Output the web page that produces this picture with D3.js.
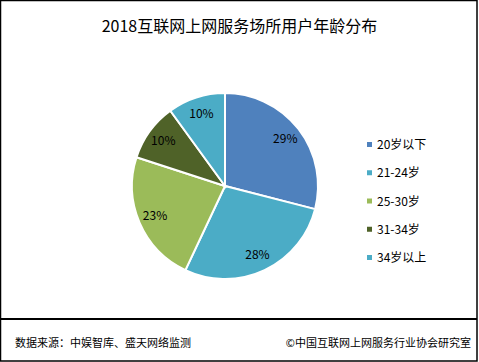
<!DOCTYPE html>
<html>
<head>
<meta charset="utf-8">
<script src="https://cdn.jsdelivr.net/npm/d3@7"></script>
<style>
  body { margin: 0; background: #fff; }
  text { font-family: "Microsoft YaHei", "Noto Sans CJK SC", sans-serif; fill: #000; }
</style>
</head>
<body>
<svg id="pieChart" width="479" height="362"></svg>
<script>
var ageGroups = ["20岁以下", "21-24岁", "25-30岁", "31-34岁", "34岁以上"];
var shares = [29, 28, 23, 10, 10];
var sliceColors = ["#4F81BD", "#4BACC6", "#9BBB59", "#4F6228", "#4BACC6"];

var svg = d3.select("#pieChart"),
    width = +svg.attr("width"),
    height = +svg.attr("height"),
    radius = 93;

var data = ageGroups.map(function (a, i) { return { age: a, share: shares[i] }; });

// frame + footer divider
svg.append("rect").attr("x", 0.5).attr("y", 0.5)
    .attr("width", width - 2.5).attr("height", height - 1.5)
    .attr("fill", "none").attr("stroke", "#000").attr("stroke-width", 1.5);
svg.append("line").attr("x1", 0).attr("x2", width - 2)
    .attr("y1", 319).attr("y2", 319)
    .attr("stroke", "#000").attr("stroke-width", 2);

svg.append("text")
    .attr("x", width / 2).attr("y", 32)
    .attr("text-anchor", "middle")
    .style("font-size", "16px")
    .text("2018互联网上网服务场所用户年龄分布");

var color = d3.scaleOrdinal().domain(ageGroups).range(sliceColors);

var pie = d3.pie().sort(null).value(function (d) { return d.share; });
var path = d3.arc().outerRadius(radius).innerRadius(0);
var label = d3.arc().outerRadius(radius * 0.82).innerRadius(radius * 0.82);

var g = svg.append("g").attr("transform", "translate(225,186)");

var arc = g.selectAll(".arc")
    .data(pie(data))
    .enter().append("g")
    .attr("class", "arc");

arc.append("path")
    .attr("d", path)
    .attr("fill", function (d) { return color(d.data.age); })
    .attr("stroke", "#fff")
    .attr("stroke-width", 2);

arc.append("text")
    .attr("transform", function (d) { return "translate(" + label.centroid(d) + ")"; })
    .attr("text-anchor", "middle")
    .attr("dy", "0.35em")
    .style("font-size", "12px")
    .text(function (d) { return d.data.share + "%"; });

// legend
var y = d3.scalePoint().domain(ageGroups).range([145, 258]);
var legend = svg.append("g").selectAll("g")
    .data(ageGroups)
    .enter().append("g")
    .attr("transform", function (d) { return "translate(367," + y(d) + ")"; });

legend.append("rect")
    .attr("x", 0).attr("y", -3)
    .attr("width", 5).attr("height", 5)
    .attr("fill", function (d) { return color(d); });

legend.append("text")
    .attr("x", 10).attr("dy", "0.35em")
    .style("font-size", "12px")
    .text(function (d) { return d; });

// footer
svg.append("text")
    .attr("x", 15).attr("y", 347)
    .style("font-size", "11px")
    .text("数据来源：中娱智库、盛天网络监测");
svg.append("text")
    .attr("x", 471).attr("y", 347)
    .attr("text-anchor", "end")
    .style("font-size", "11px")
    .text("©中国互联网上网服务行业协会研究室");
</script>
</body>
</html>
